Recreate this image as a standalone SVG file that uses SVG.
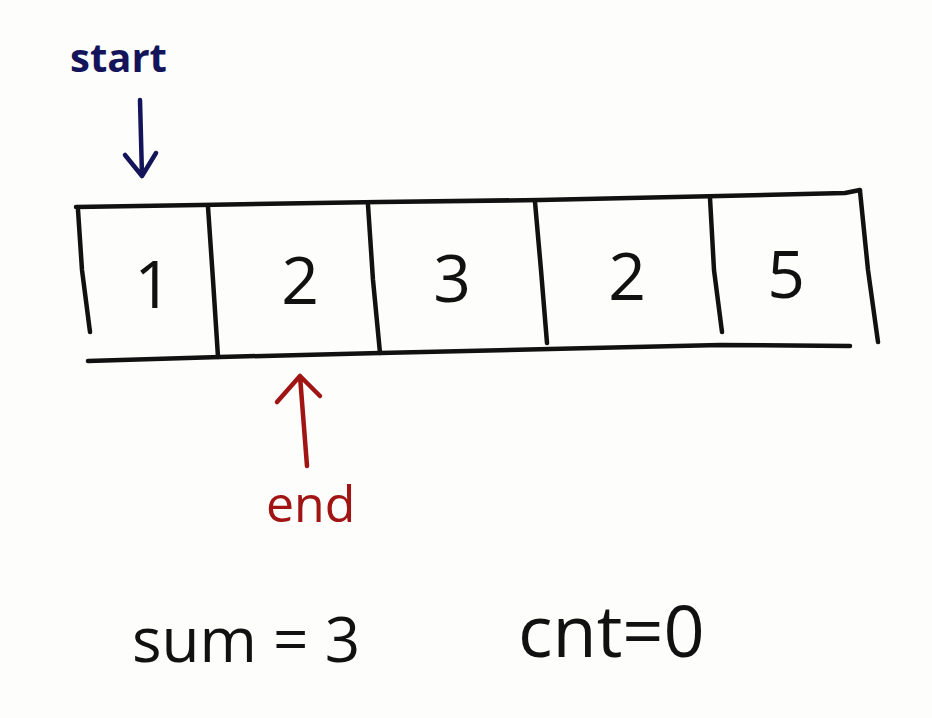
<svg xmlns="http://www.w3.org/2000/svg" width="932" height="718" viewBox="0 0 932 718">
<style>
.ln{fill:none;stroke:#111;stroke-width:4.5;stroke-linecap:round;stroke-linejoin:round}
.num{font-family:"Open Sans","Liberation Sans",sans-serif;font-size:66px;fill:#111;text-anchor:middle}
.lbl{font-family:"Open Sans","Liberation Sans",sans-serif;font-size:62px;fill:#111}
</style>
<rect width="932" height="718" fill="#fdfdfb"/>
<g id="array">
<path class="ln" d="M76,207 L200,205 L380,202 L540,200 L720,196 L845,193 L860,190"/>
<path class="ln" d="M88,361 L220,357 L380,353 L550,349 L720,345 L850,346"/>
<path class="ln" d="M78,210 L82,270 L90,332"/>
<path class="ln" d="M208,207 L213,280 L218,357"/>
<path class="ln" d="M368,205 L373,280 L380,353"/>
<path class="ln" d="M535,202 L541,270 L547,343"/>
<path class="ln" d="M710,198 L714,270 L722,332"/>
<path class="ln" d="M860,191 L868,270 L878,342"/>
</g>
<g id="cells">
<text class="num" x="153" y="308">1</text>
<text class="num" x="300" y="304">2</text>
<text class="num" x="452" y="302">3</text>
<text class="num" x="627" y="300">2</text>
<text class="num" x="786" y="298">5</text>
</g>
<g id="start">
<text x="70" y="72" font-family="Open Sans, Liberation Sans, sans-serif" font-size="40" font-weight="bold" fill="#14145a">start</text>
</g>
<g id="end">
<text x="266" y="522" font-family="Open Sans, Liberation Sans, sans-serif" font-size="50" fill="#a01414">end</text>
</g>
<g id="connectors">
<path d="M140,100 L142,176 M125,155 L142,176 L156,153" fill="none" stroke="#14145a" stroke-width="4.5" stroke-linecap="round" stroke-linejoin="round"/>
<path d="M307,466 L300,376 M277,402 L300,376 L320,396" fill="none" stroke="#a01414" stroke-width="4.5" stroke-linecap="round" stroke-linejoin="round"/>
</g>
<g id="sum">
<text class="lbl" x="132" y="662">sum = 3</text>
</g>
<g id="cnt">
<text class="lbl" x="518" y="657" style="font-size:72px">cnt=0</text>
</g>
</svg>
